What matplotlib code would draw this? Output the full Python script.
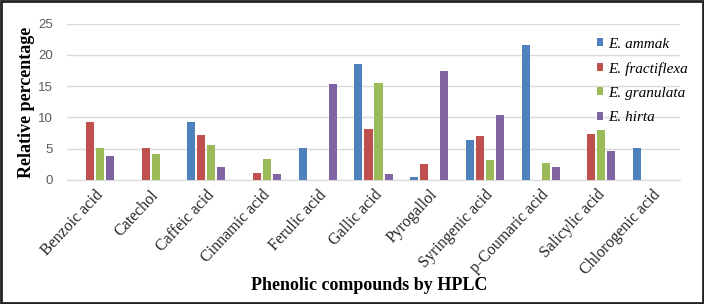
import matplotlib
matplotlib.use("Agg")
import matplotlib.pyplot as plt
import numpy as np
from matplotlib.patches import Rectangle

categories = ["Benzoic acid", "Catechol", "Caffeic acid", "Cinnamic acid", "Ferulic acid",
              "Gallic acid", "Pyrogallol", "Syringenic acid", "p-Coumaric acid",
              "Salicylic acid", "Chlorogenic acid"]
series_names = ["E. ammak", "E. fractiflexa", "E. granulata", "E. hirta"]
ammak      = [0, 0, 9.3, 0, 5.1, 18.6, 0.5, 6.4, 21.5, 0, 5.05]
fractiflexa = [9.2, 5.05, 7.2, 1.1, 0, 8.2, 2.55, 7.1, 0, 7.4, 0]
granulata  = [5.05, 4.15, 5.6, 3.35, 0, 15.5, 0, 3.2, 2.7, 8.0, 0]
hirta      = [3.85, 0, 2.1, 1.0, 15.4, 0.95, 17.35, 10.4, 2.0, 4.65, 0]
colors = ["#4F81BD", "#C0504D", "#9BBB59", "#8064A2"]
yticks = [0, 5, 10, 15, 20, 25]

fig = plt.figure(figsize=(7.04, 3.04), dpi=100)
W, H = 704, 304
ax = fig.add_axes([67 / W, 1 - 180 / H, (680 - 67) / W, (180 - 23.5) / H])

x = np.arange(len(categories))
pitch = 0.18
bw = 0.145
for i, (vals, name, c) in enumerate(zip([ammak, fractiflexa, granulata, hirta], series_names, colors)):
    ax.bar(x + (i - 1.5) * pitch, vals, bw, color=c, label=name, zorder=3)

ax.set_xlim(-0.5, len(categories) - 0.5)
ax.set_ylim(0, 25)
ax.set_yticks(yticks)
ax.set_yticklabels([str(t) for t in yticks], fontsize=9.5, color="#595959", family="Liberation Sans")
ax.yaxis.grid(True, color="#D9D9D9", linewidth=1, zorder=0)
ax.set_axisbelow(True)
for s in ["top", "right", "left"]:
    ax.spines[s].set_visible(False)
ax.spines["bottom"].set_color("#D9D9D9")
ax.tick_params(axis="y", length=0, pad=10)
ax.set_xticks(x)
ax.set_xticklabels(categories, rotation=47, ha="right", rotation_mode="anchor",
                   fontsize=11.5, color="#262626", family="Liberation Serif")
ax.tick_params(axis="x", length=0, pad=5)

fig.text(26.5 / W, 1 - 102 / H, "Relative percentage", fontsize=13, fontweight="bold",
         family="Liberation Serif", rotation=90, ha="center", va="center")
fig.text(369 / W, 1 - 285 / H, "Phenolic compounds by HPLC", fontsize=13, fontweight="bold",
         family="Liberation Serif", ha="center", va="center")

leg = fig.legend(*ax.get_legend_handles_labels(), loc="upper left",
                 bbox_to_anchor=(597 / W, 1 - 37.5 / H), bbox_transform=fig.transFigure,
                 frameon=False, borderpad=0, borderaxespad=0,
                 prop={"family": "Liberation Serif", "style": "italic", "size": 11},
                 handlelength=0.42, handleheight=0.42, handletextpad=0.32, labelspacing=0.74)

fig.patches.append(Rectangle((1 / W, 1 / H), 1 - 2 / W, 1 - 2 / H, transform=fig.transFigure,
                             fill=False, edgecolor="#222222", linewidth=2))

fig.savefig("out.png", dpi=100)
